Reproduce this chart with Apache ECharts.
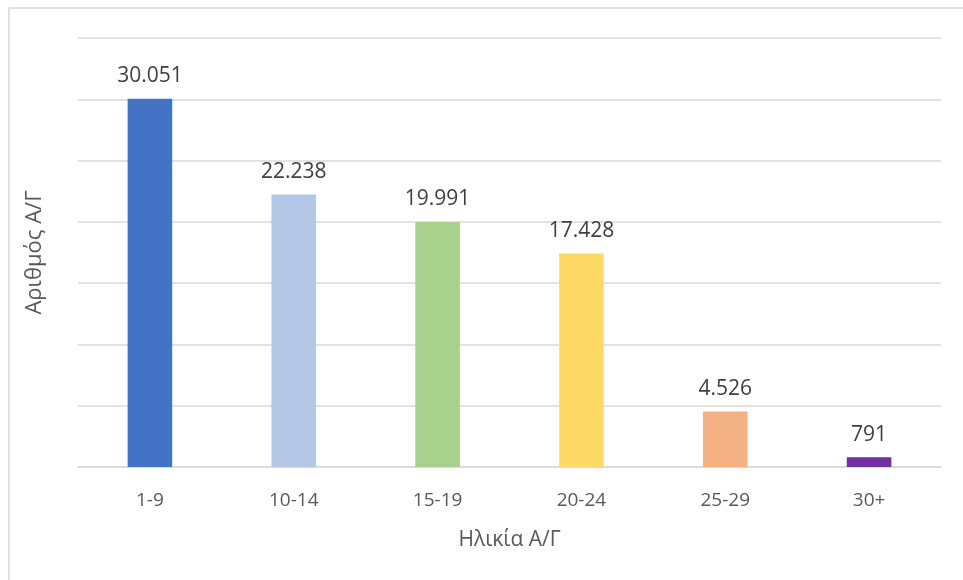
<!DOCTYPE html>
<html>
<head>
<meta charset="utf-8">
<script src="https://cdn.jsdelivr.net/npm/echarts@6/dist/echarts.min.js"></script>
<style>
  html, body { margin: 0; padding: 0; background: #ffffff; }
  #chart { width: 963px; height: 580px; }
</style>
</head>
<body>
<div id="chart"></div>
<script>
// Age groups of vehicles and their counts
const categories = ['1-9', '10-14', '15-19', '20-24', '25-29', '30+'];
const counts = [30051, 22238, 19991, 17428, 4526, 791];
const barColors = ['#4472C4', '#B4C7E7', '#A9D18E', '#FFD966', '#F4B183', '#7030A0'];

const xTitle = 'Ηλικία Α/Γ';
const yTitle = 'Αριθμός Α/Γ';

// Greek-style thousands separator (dot)
function fmt(v) {
  return String(v).replace(/\B(?=(\d{3})+(?!\d))/g, '.');
}

const chart = echarts.init(document.getElementById('chart'), null, { renderer: 'canvas' });
const textFont = '"Open Sans", "Noto Sans", sans-serif';

chart.setOption({
  animation: false,
  textStyle: { fontFamily: textFont },
  graphic: [{
    type: 'rect',
    shape: { x: 9, y: 8, width: 1000, height: 700 },
    style: { fill: 'none', stroke: '#d9d9d9', lineWidth: 1.5 },
    silent: true
  }],
  grid: { left: 78, right: 22, top: 38, bottom: 113 },
  xAxis: {
    type: 'category',
    data: categories,
    name: xTitle,
    nameLocation: 'middle',
    nameGap: 63,
    nameTextStyle: { color: '#595959', fontSize: 21, fontFamily: textFont },
    axisLine: { show: true, lineStyle: { color: '#d9d9d9', width: 1.5 } },
    axisTick: { show: false },
    axisLabel: { color: '#595959', fontSize: 19, margin: 24, fontFamily: textFont }
  },
  yAxis: {
    type: 'value',
    min: 0,
    max: 35000,
    interval: 5000,
    name: yTitle,
    nameLocation: 'middle',
    nameGap: 32,
    nameRotate: 90,
    nameTextStyle: { color: '#595959', fontSize: 22, fontFamily: textFont },
    axisLine: { show: false },
    axisTick: { show: false },
    axisLabel: { show: false },
    splitLine: { lineStyle: { color: '#d9d9d9', width: 1.5 } }
  },
  series: [{
    type: 'bar',
    data: counts.map((v, i) => ({ value: v, itemStyle: { color: barColors[i] } })),
    barWidth: '31%',
    label: {
      show: true,
      position: 'top',
      distance: 12,
      color: '#404040',
      fontSize: 21,
      fontFamily: textFont,
      formatter: p => fmt(p.value)
    }
  }]
});
</script>
</body>
</html>
